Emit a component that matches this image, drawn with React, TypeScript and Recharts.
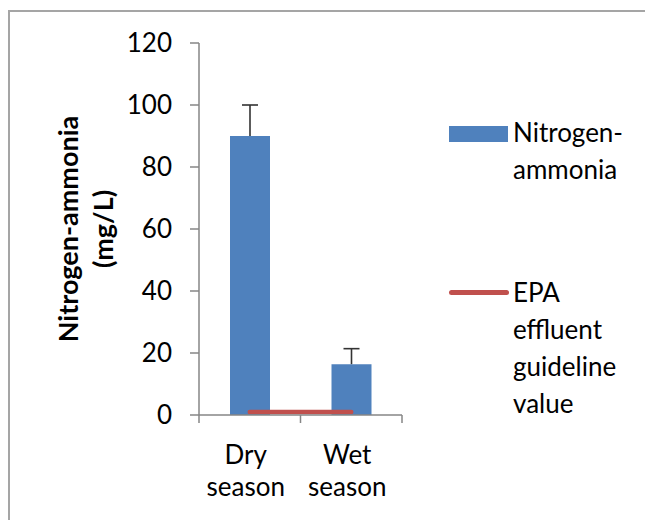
import React from "react";
import { ComposedChart, Bar, Line, XAxis, YAxis, Legend, Label } from "recharts";

const categories = ["Dry season", "Wet season"];
const nitrogenAmmonia = [90, 16.4];
const nitrogenErrorUp = [10, 5];
const epaGuideline = [1, 1];
const yTicks = [0, 20, 40, 60, 80, 100, 120];
const yTitleLines = ["Nitrogen-ammonia", "(mg/L)"];
const legendItems = [
  { name: "Nitrogen-ammonia", lines: ["Nitrogen-", "ammonia"], type: "rect", color: "#4f81bd" },
  { name: "EPA effluent guideline value", lines: ["EPA", "effluent", "guideline", "value"], type: "line", color: "#c0504d" },
];

const data = categories.map((c, i) => ({
  category: c,
  nitrogen: nitrogenAmmonia[i],
  err: nitrogenErrorUp[i],
  epa: epaGuideline[i],
}));

const AXIS = "#868686";
const FONT = 26;
const TICK_LEN = 8;

const ErrorShape = (props: any) => {
  const { x, y, width, height } = props;
  const cx = x + width / 2;
  return (
    <g>
      <line x1={cx} y1={y} x2={cx} y2={y + height} stroke="#333" strokeWidth={1.6} />
      <line x1={cx - 8} y1={y} x2={cx + 8} y2={y} stroke="#333" strokeWidth={1.6} />
    </g>
  );
};

const CategoryTick = (props: any) => {
  const { x, y, payload, index, visibleTicksCount } = props;
  const half = payload && payload.offset ? payload.offset : 0;
  const words = String(payload.value).split(" ");
  const isLast = index === visibleTicksCount - 1;
  return (
    <g>
      <line x1={x - half} y1={y} x2={x - half} y2={y + TICK_LEN} stroke={AXIS} strokeWidth={1.5} />
      {isLast && (
        <line x1={x + half} y1={y} x2={x + half} y2={y + TICK_LEN} stroke={AXIS} strokeWidth={1.5} />
      )}
      <text x={x - 4} y={y} textAnchor="middle" fontSize={FONT} fill="#000">
        {words.map((w, i) => (
          <tspan key={i} x={x - 4} dy={i === 0 ? 49 : 32}>
            {w}
          </tspan>
        ))}
      </text>
    </g>
  );
};

const YTitle = (props: any) => {
  const vb = props.viewBox || {};
  const cy = vb.y + vb.height / 2;
  const xs = [vb.x + 8, vb.x + 43];
  return (
    <g>
      {yTitleLines.map((t, i) => (
        <text
          key={i}
          transform={`translate(${xs[i]}, ${cy}) rotate(-90)`}
          textAnchor="middle"
          dominantBaseline="central"
          fontSize={27}
          fontWeight="bold"
          fill="#000"
        >
          {t}
        </text>
      ))}
    </g>
  );
};

const LegendContent = () => (
  <div style={{ fontFamily: "Lato", fontSize: FONT, color: "#000" }}>
    {legendItems.map((item, i) => (
      <div key={item.name} style={{ display: "flex", alignItems: "flex-start", marginTop: i === 0 ? 0 : 86 }}>
        <div style={{ width: 64, height: 37, display: "flex", alignItems: "center" }}>
          {item.type === "rect" ? (
            <div style={{ width: 59, height: 16, background: item.color, marginTop: 3 }} />
          ) : (
            <div style={{ width: 60, height: 4.5, background: item.color, borderRadius: 3 }} />
          )}
        </div>
        <div style={{ lineHeight: "37px" }}>
          {item.lines.map((l) => (
            <div key={l}>{l}</div>
          ))}
        </div>
      </div>
    ))}
  </div>
);

export default function App() {
  return (
    <div
      style={{
        marginTop: 2,
        width: 645,
        height: 510,
        boxSizing: "border-box",
        borderTop: "2px solid #a5a5a5",
        borderLeft: "2px solid #a5a5a5",
        fontFamily: "Lato",
        background: "#fff",
      }}
    >
      <ComposedChart
        width={643}
        height={508}
        data={data}
        margin={{ top: 31, right: 251, bottom: 15, left: 49 }}
      >
        <XAxis
          dataKey="category"
          axisLine={{ stroke: AXIS, strokeWidth: 1.5 }}
          tickLine={false}
          tickSize={0}
          tickMargin={0}
          height={90}
          tick={<CategoryTick />}
          interval={0}
        />
        <YAxis
          domain={[0, 120]}
          ticks={yTicks}
          width={140}
          tickSize={9}
          tickMargin={18}
          stroke={AXIS}
          strokeWidth={1.5}
          tick={{ fill: "#000", fontSize: FONT }}
        >
          <Label content={<YTitle />} />
        </YAxis>
        <Legend
          layout="vertical"
          align="center"
          verticalAlign="middle"
          content={<LegendContent />}
          wrapperStyle={{ left: 439, top: 102, width: 200 }}
        />
        <Bar dataKey="nitrogen" name={legendItems[0].name} stackId="n" barSize={40} fill="#4f81bd" isAnimationActive={false} />
        <Bar dataKey="err" stackId="n" barSize={40} shape={<ErrorShape />} isAnimationActive={false} legendType="none" />
        <Line
          dataKey="epa"
          name={legendItems[1].name}
          stroke="#c0504d"
          strokeWidth={4.5}
          strokeLinecap="round"
          dot={false}
          activeDot={false}
          isAnimationActive={false}
        />
      </ComposedChart>
    </div>
  );
}
